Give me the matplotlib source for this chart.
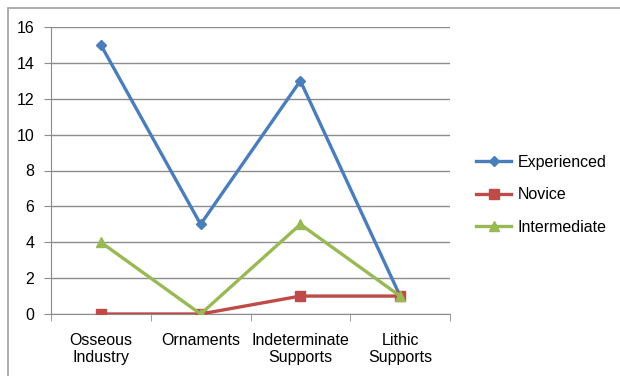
import matplotlib.pyplot as plt
from matplotlib.patches import Rectangle

categories = ["Osseous\nIndustry", "Ornaments", "Indeterminate\nSupports", "Lithic\nSupports"]
experienced = [15, 5, 13, 1]
novice = [0, 0, 1, 1]
intermediate = [4, 0, 5, 1]
y_ticks = [0, 2, 4, 6, 8, 10, 12, 14, 16]

plt.rcParams['font.family'] = ['Liberation Sans', 'DejaVu Sans']

fig = plt.figure(figsize=(6.2, 3.76), dpi=100)
ax = fig.add_axes([51/620, 1-314/376, (450-51)/620, (314-27)/376])

x = list(range(len(categories)))
ax.plot(x, experienced, color='#4A7EBB', lw=2.4, marker='D', ms=5.5, label='Experienced', zorder=3)
ax.plot(x, novice, color='#BE4B48', lw=2.4, marker='s', ms=7, label='Novice', zorder=3)
ax.plot(x, intermediate, color='#98B954', lw=2.4, marker='^', ms=7, label='Intermediate', zorder=4)

ax.set_xlim(-0.5, 3.5)
ax.set_ylim(0, 16)
ax.set_yticks(y_ticks)
ax.yaxis.grid(True, color='#8c8c8c', lw=1)
ax.set_axisbelow(True)
ax.set_xticks(x)
ax.set_xticklabels(categories, fontsize=11.5, linespacing=1.1)
ax.set_xticks([-0.5, 0.5, 1.5, 2.5, 3.5], minor=True)
ax.tick_params(axis='x', which='major', length=0, pad=14)
ax.tick_params(axis='x', which='minor', length=5, color='#8c8c8c')
ax.tick_params(axis='y', length=5, color='#8c8c8c', labelsize=11.5, pad=7)
for s in ['top', 'right']:
    ax.spines[s].set_visible(False)
for s in ['left', 'bottom']:
    ax.spines[s].set_color('#8c8c8c')

ax.legend(loc='center left', bbox_to_anchor=(1.03, 0.415), frameon=False, fontsize=11.5,
          handlelength=2.2, labelspacing=1.1, handletextpad=0.4)

# outer chart frame
fig.patches.append(Rectangle((8/620, -0.05), 1.1, 1.05 - 8/376, transform=fig.transFigure,
                             fill=False, edgecolor='#a0a0a0', lw=1.2))

fig.savefig('out.png', dpi=100)
